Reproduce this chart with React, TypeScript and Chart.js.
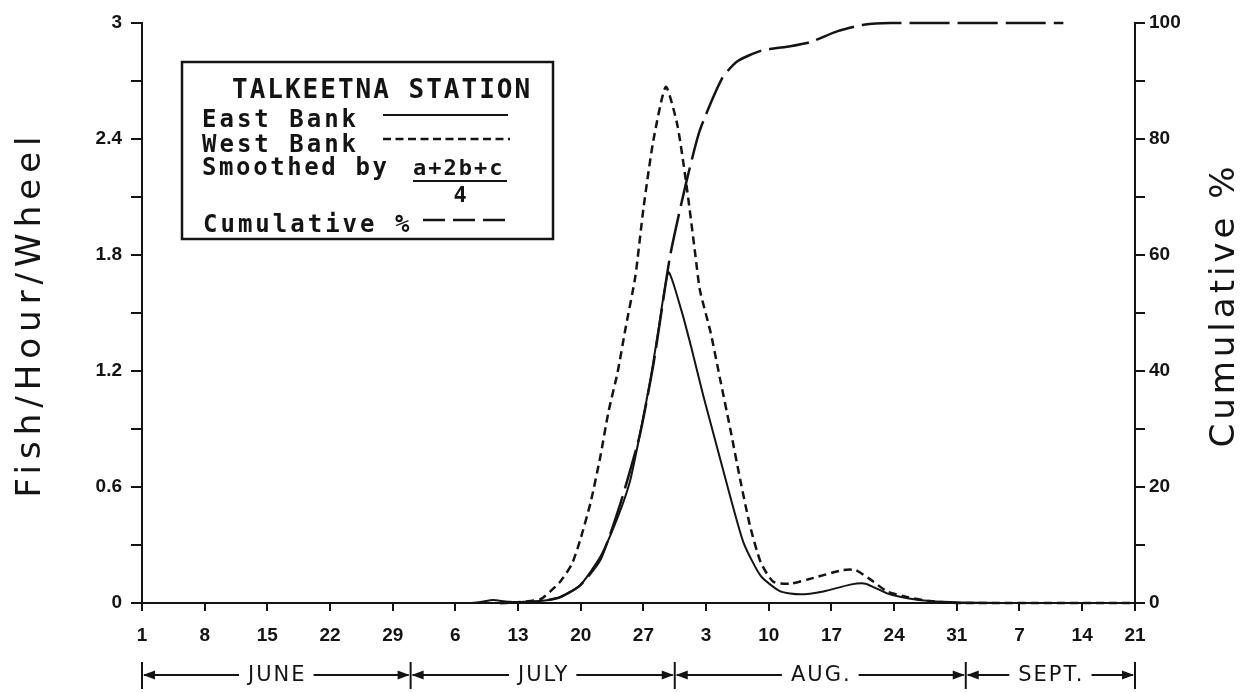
import React, { useEffect, useRef } from "react";
import { Chart, registerables } from "chart.js";

Chart.register(...registerables);

// ---- x axis: days counted from June 1 ----
const xAxisEnd = 110.9;
const weekTickDays = [0, 7, 14, 21, 28, 35, 42, 49, 56, 63, 70, 77, 84, 91, 98, 105, 110.9];
const weekTickLabels = ["1", "8", "15", "22", "29", "6", "13", "20", "27", "3", "10", "17", "24", "31", "7", "14", "21"];

const monthNames = ["JUNE", "JULY", "AUG.", "SEPT."];
const monthBoundaryDays = [0, 30, 59.5, 92, 110.9];

// ---- series ----
const eastDays = [0, 36.6, 37.8, 39.2, 40.6, 42.2, 44.5, 46.7, 48.9, 51.2, 53.1, 54.5, 55.6, 56.8, 57.7, 58.8, 60.2, 61.3, 62.7, 64.2, 65.7, 67.2, 69.1, 71.3, 73.5, 76.1, 79.1, 80.8, 83.2, 85.5, 88.0, 91.4, 95.9, 110.9];
const eastValues = [0, 0, 0.005, 0.015, 0.008, 0.005, 0.01, 0.03, 0.09, 0.24, 0.44, 0.63, 0.87, 1.16, 1.42, 1.71, 1.52, 1.33, 1.07, 0.81, 0.55, 0.31, 0.14, 0.06, 0.045, 0.06, 0.095, 0.1, 0.05, 0.025, 0.01, 0.003, 0, 0];

const westDays = [40.0, 42.2, 44.5, 45.6, 46.7, 48.0, 48.9, 50.1, 51.2, 52.1, 53.1, 54.0, 55.1, 56.0, 57.1, 58.5, 59.8, 60.9, 61.8, 62.3, 63.5, 64.6, 65.7, 66.8, 67.9, 69.1, 70.5, 72.4, 75.0, 78.3, 79.7, 81.7, 83.2, 85.5, 88.0, 91.4, 110.9];
const westValues = [0, 0.005, 0.02, 0.06, 0.11, 0.2, 0.32, 0.52, 0.76, 0.99, 1.19, 1.42, 1.69, 2.04, 2.39, 2.67, 2.47, 2.13, 1.80, 1.62, 1.40, 1.15, 0.90, 0.64, 0.40, 0.21, 0.11, 0.10, 0.13, 0.17, 0.17, 0.11, 0.06, 0.03, 0.01, 0, 0];

const cumDays = [40.0, 44.5, 46.7, 48.9, 51.2, 53.4, 55.6, 57.1, 57.7, 59.0, 60.7, 62.3, 64.8, 66.5, 69.1, 72.4, 74.6, 77.7, 80.6, 83.6, 102.9];
const cumValues = [0, 0.3, 1, 3, 7.5, 17, 29, 41, 47, 60, 72, 81.5, 90.5, 93.4, 95.2, 96, 96.7, 98.6, 99.7, 100, 100];

const legendTitle = "TALKEETNA STATION";
const smoothNote = "Smoothed by";
const smoothNumerator = "a+2b+c";
const smoothDenominator = "4";
const leftAxisTitle = "Fish/Hour/Wheel";
const rightAxisTitle = "Cumulative %";

const ink = "#141414";
const mono = "'DejaVu Sans Mono', monospace";
const sans = "'DejaVu Sans', sans-serif";
const tickFamily = "'Liberation Sans', Arial, sans-serif";

const toPoints = (xs: number[], ys: number[]) => xs.map((x, i) => ({ x, y: ys[i] }));

const decorPlugin = {
  id: "decor",
  afterDraw(chart: any) {
    const { ctx, chartArea } = chart;
    const xs = chart.scales.x;
    const c = ctx as any;
    const ds = chart.data.datasets;

    const text = (s: string, x: number, y: number, font: string, spacing: number, align: CanvasTextAlign = "left", baseline: CanvasTextBaseline = "alphabetic") => {
      c.letterSpacing = spacing + "px";
      ctx.font = font;
      ctx.textAlign = align;
      ctx.textBaseline = baseline;
      ctx.fillText(s, x, y);
      c.letterSpacing = "0px";
    };
    const seg = (x0: number, y0: number, x1: number, y1: number, w: number, dash: number[]) => {
      ctx.beginPath();
      ctx.lineWidth = w;
      ctx.setLineDash(dash);
      ctx.moveTo(x0, y0);
      ctx.lineTo(x1, y1);
      ctx.stroke();
      ctx.setLineDash([]);
    };

    ctx.save();
    ctx.fillStyle = ink;
    ctx.strokeStyle = ink;

    // ---- legend box ----
    const bx = chartArea.left + 40;
    const by = chartArea.top + 39;
    const bw = 371;
    const bh = 177;
    ctx.fillStyle = "#fff";
    ctx.fillRect(bx, by, bw, bh);
    ctx.fillStyle = ink;
    ctx.lineWidth = 2.5;
    ctx.strokeRect(bx, by, bw, bh);

    const itemFont = `bold 24px ${mono}`;
    text(legendTitle, bx + 50, by + 36, `bold 26px ${mono}`, 2, "left");
    text(ds[0].label, bx + 20, by + 65, itemFont, 3);
    seg(bx + 201, by + 53, bx + 326, by + 53, 2, []);
    text(ds[1].label, bx + 20, by + 90, itemFont, 3);
    seg(bx + 201, by + 77, bx + 328, by + 77, 2.5, [8, 4.5]);
    text(smoothNote, bx + 20, by + 113, itemFont, 2.6);
    text(smoothNumerator, bx + 231, by + 113, `bold 22px ${mono}`, 2);
    seg(bx + 231, by + 119, bx + 325, by + 119, 2, []);
    text(smoothDenominator, bx + 278, by + 140, `bold 22px ${mono}`, 0, "center");
    text(ds[2].label, bx + 21, by + 170, itemFont, 3);
    seg(bx + 241, by + 158, bx + 323, by + 158, 2.5, [22, 8]);

    // ---- month brackets ----
    const Y = 675;
    const monthFont = `21px ${sans}`;
    for (let i = 0; i < monthNames.length; i++) {
      const x0 = xs.getPixelForValue(monthBoundaryDays[i]);
      const x1 = xs.getPixelForValue(monthBoundaryDays[i + 1]);
      const cx = (x0 + x1) / 2;
      c.letterSpacing = "2px";
      ctx.font = monthFont;
      const w = ctx.measureText(monthNames[i]).width;
      c.letterSpacing = "0px";
      text(monthNames[i], cx + 1, Y + 1, monthFont, 2, "center", "middle");
      seg(x0 + 2, Y, cx - w / 2 - 8, Y, 2, []);
      seg(cx + w / 2 + 8, Y, x1 - 2, Y, 2, []);
      ctx.beginPath();
      ctx.moveTo(x0 + 1, Y);
      ctx.lineTo(x0 + 13, Y - 4.5);
      ctx.lineTo(x0 + 13, Y + 4.5);
      ctx.closePath();
      ctx.fill();
      ctx.beginPath();
      ctx.moveTo(x1 - 1, Y);
      ctx.lineTo(x1 - 13, Y - 4.5);
      ctx.lineTo(x1 - 13, Y + 4.5);
      ctx.closePath();
      ctx.fill();
    }
    for (const d of monthBoundaryDays) {
      const x = xs.getPixelForValue(d);
      seg(x, Y - 13, x, Y + 14, 2, []);
    }

    // ---- axis titles (both read bottom-to-top) ----
    const midY = (chartArea.top + chartArea.bottom) / 2;
    ctx.save();
    ctx.translate(31, midY + 4);
    ctx.rotate(-Math.PI / 2);
    text(leftAxisTitle, 3, 0, `34px ${sans}`, 6, "center", "middle");
    ctx.restore();
    ctx.save();
    ctx.translate(chart.width - 24, midY - 6);
    ctx.rotate(-Math.PI / 2);
    text(rightAxisTitle, 2, 0, `34px ${sans}`, 4, "center", "middle");
    ctx.restore();

    ctx.restore();
  },
};

export default function App() {
  const ref = useRef<HTMLCanvasElement>(null);

  useEffect(() => {
    const tickFont = { family: tickFamily, size: 19, weight: "bold" as const };
    const chart = new Chart(ref.current as HTMLCanvasElement, {
      type: "line",
      data: {
        datasets: [
          {
            label: "East Bank",
            data: toPoints(eastDays, eastValues),
            borderColor: ink,
            borderWidth: 2,
            pointRadius: 0,
            tension: 0.2,
            yAxisID: "y",
            clip: 4,
          },
          {
            label: "West Bank",
            data: toPoints(westDays, westValues),
            borderColor: ink,
            borderWidth: 2.5,
            borderDash: [8, 5],
            pointRadius: 0,
            tension: 0.2,
            yAxisID: "y",
            clip: 4,
          },
          {
            label: "Cumulative %",
            data: toPoints(cumDays, cumValues),
            borderColor: ink,
            borderWidth: 2.5,
            borderDash: [40, 8],
            pointRadius: 0,
            tension: 0.2,
            yAxisID: "y2",
            clip: 4,
          },
        ],
      },
      options: {
        animation: false,
        responsive: true,
        maintainAspectRatio: false,
        layout: { padding: { top: 23, left: 0, right: 0, bottom: 0 } },
        plugins: { legend: { display: false }, tooltip: { enabled: false } },
        events: [],
        scales: {
          x: {
            type: "linear",
            min: 0,
            max: xAxisEnd,
            afterBuildTicks: (axis: any) => {
              axis.ticks = weekTickDays.map((v) => ({ value: v }));
            },
            afterFit: (s: any) => {
              s.height = 89;
            },
            ticks: {
              autoSkip: false,
              maxRotation: 0,
              padding: 13,
              color: ink,
              font: tickFont,
              callback: (_v: any, i: number) => weekTickLabels[i],
            },
            grid: { drawOnChartArea: false, drawTicks: true, tickLength: 8, color: ink, lineWidth: 2 },
            border: { display: true, color: ink, width: 2 },
          },
          y: {
            type: "linear",
            position: "left",
            min: 0,
            max: 3,
            afterFit: (s: any) => {
              s.width = 142;
            },
            ticks: {
              stepSize: 0.3,
              autoSkip: false,
              padding: 9,
              color: ink,
              font: tickFont,
              callback: (v: any) => {
                const t = Math.round(Number(v) * 10);
                if (t % 6 !== 0) return "";
                if (t === 0) return "0";
                if (t === 30) return "3";
                return (t / 10).toFixed(1);
              },
            },
            grid: { drawOnChartArea: false, drawTicks: true, tickLength: 11, color: ink, lineWidth: 2 },
            border: { display: true, color: ink, width: 2 },
          },
          y2: {
            type: "linear",
            position: "right",
            min: 0,
            max: 100,
            afterFit: (s: any) => {
              s.width = 114;
            },
            ticks: {
              stepSize: 10,
              autoSkip: false,
              padding: 4,
              color: ink,
              font: tickFont,
              callback: (v: any) => (Math.round(Number(v)) % 20 === 0 ? String(Math.round(Number(v))) : ""),
            },
            grid: { drawOnChartArea: false, drawTicks: true, tickLength: 10, color: ink, lineWidth: 2 },
            border: { display: true, color: ink, width: 2 },
          },
        },
      },
      plugins: [decorPlugin],
    } as any);
    return () => chart.destroy();
  }, []);

  return (
    <div style={{ position: "fixed", left: 0, top: 0, width: 1249, height: 692, background: "#fff" }}>
      <canvas ref={ref} />
    </div>
  );
}
